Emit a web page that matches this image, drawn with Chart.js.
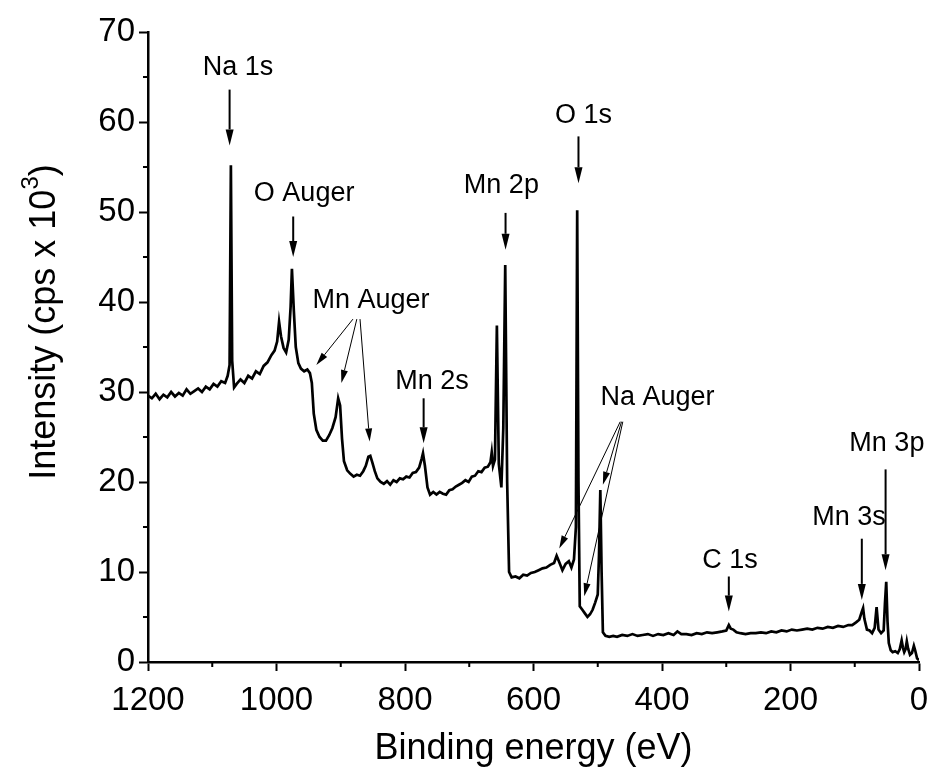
<!DOCTYPE html>
<html>
<head>
<meta charset="utf-8">
<script src="https://cdn.jsdelivr.net/npm/chart.js@4/dist/chart.umd.min.js"></script>
<style>
body { margin: 0; background: #fff; }
canvas { display: block; }
</style>
</head>
<body>
<canvas id="xps" width="933" height="780"></canvas>
<script>
const energy = [
    1200, 1194, 1188, 1182, 1176, 1170, 1164, 1158, 1152, 1146, 1140, 1134, 1128, 1122, 1116, 1110,
    1104, 1098, 1092, 1086, 1080, 1076, 1073, 1071, 1069, 1066, 1062, 1056, 1050, 1044, 1038, 1032,
    1026, 1020, 1014, 1008, 1003, 999, 996, 993, 989, 985, 981, 978, 976, 973, 970, 966, 962, 957,
    952, 948, 945, 942, 938, 933, 928, 923, 918, 913, 908, 904, 901, 898, 895, 890, 885, 880, 875,
    870, 865, 861, 857, 854, 851, 847, 843, 838, 833, 828, 823, 818, 813, 808, 803, 798, 793, 788,
    783, 778, 774, 772, 769, 765, 761, 756, 751, 746, 741, 736, 731, 726, 721, 716, 711, 706, 701,
    696, 691, 686, 681, 676, 671, 667, 665, 663, 660, 657, 654, 650, 647, 644, 641, 638, 634, 628,
    622, 616, 610, 604, 598, 592, 586, 580, 574, 568, 564, 560, 555, 550, 545, 541, 537, 534, 532,
    530, 528, 524, 520, 516, 512, 508, 504, 500, 498, 496, 494, 492, 488, 482, 476, 470, 462, 454,
    446, 438, 430, 422, 414, 406, 398, 390, 382, 376, 370, 362, 354, 346, 338, 330, 322, 314, 306,
    300, 296, 293, 289, 284, 278, 270, 262, 254, 246, 238, 230, 222, 214, 206, 198, 190, 182, 174,
    166, 158, 150, 142, 134, 126, 118, 110, 104, 98, 93, 89, 87, 85, 81, 77, 73, 69, 66, 63, 59,
    55, 53, 51, 49, 47, 44, 41, 37, 33, 30, 27, 25, 23, 21, 19, 17, 14, 11, 8, 6, 3, 0
];
const intensity = [
    29.6, 29.3, 29.8, 29.2, 29.7, 29.4, 30.0, 29.5, 29.9, 29.6, 30.3, 29.8, 30.1, 30.4, 30.0, 30.6,
    30.3, 30.9, 30.6, 31.2, 31.0, 31.8, 33.0, 55.2, 33.5, 30.5, 30.9, 31.4, 31.0, 31.8, 31.5, 32.3,
    32.0, 32.9, 33.3, 34.1, 34.6, 35.6, 37.8, 36.2, 34.9, 34.4, 35.8, 39.5, 43.7, 39.0, 35.0, 33.2, 32.6, 32.3,
    32.5, 32.1, 31.0, 27.6, 25.8, 25.0, 24.6, 24.6, 25.2, 26.0, 27.2, 29.3, 28.5, 24.8, 22.3, 21.3, 20.9, 20.6, 20.8,
    20.7, 21.2, 21.8, 22.8, 22.9, 22.2, 21.2, 20.4, 20.0, 19.8, 20.1, 19.7, 20.2, 20.0, 20.4, 20.3, 20.6, 20.5, 21.0,
    21.1, 21.6, 22.6, 23.2, 21.8, 19.4, 18.6, 18.9, 18.6, 18.9, 18.7, 18.6, 19.1, 19.2, 19.5, 19.7, 19.9, 20.2, 20.0,
    20.6, 20.7, 21.2, 21.1, 21.6, 21.7, 22.2, 23.3, 21.8, 22.5, 37.4, 22.0, 19.4, 26.0, 44.1, 20.0, 10.0, 9.4, 9.5,
    9.3, 9.7, 9.6, 9.9, 10.0, 10.2, 10.4, 10.5, 10.8, 11.0, 11.8, 11.1, 10.2, 10.9, 11.2, 10.5, 11.4, 15.0, 50.2,
    20.0, 6.2, 5.8, 5.4, 5.0, 5.3, 5.8, 6.6, 7.5, 12.0, 19.1, 10.0, 3.3, 2.9, 2.8, 2.9, 2.8, 3.0, 2.9,
    3.1, 2.9, 3.0, 3.1, 2.9, 3.1, 3.0, 3.2, 3.0, 3.4, 3.1, 3.1, 3.0, 3.2, 3.1, 3.3, 3.2, 3.3, 3.4,
    3.5, 4.1, 3.7, 3.6, 3.3, 3.2, 3.1, 3.2, 3.2, 3.3, 3.2, 3.4, 3.3, 3.5, 3.4, 3.6, 3.5, 3.6, 3.7,
    3.6, 3.8, 3.7, 3.9, 3.8, 4.0, 3.9, 4.1, 4.1, 4.4, 4.7, 5.6, 6.0, 4.8, 3.6, 3.5, 3.2, 3.8, 6.1, 3.6, 3.2,
    3.5, 6.5, 8.9, 4.5, 2.1, 1.3, 1.1, 1.2, 1.0, 1.4, 2.4, 1.6, 1.1, 1.4, 2.3, 1.5, 0.8, 1.0, 1.8, 1.3, 0.4, 0.2
];

// peak labels: text and where it sits, in eV / kcps
const peakNames = ['Na 1s', 'O Auger', 'Mn Auger', 'Mn 2s', 'Mn 2p', 'O 1s', 'Na Auger', 'C 1s', 'Mn 3s', 'Mn 3p'];
const nameEnergy = [1060, 957, 853, 758, 650, 522, 407, 294, 109, 50];
const nameIntensity = [66.0, 52.1, 40.2, 31.2, 52.9, 60.7, 29.4, 11.3, 16.0, 24.3];

// arrows: [tailE, tailI, headE, headI, heavy]
const arrows = [
    [1073, 63.6, 1073, 57.4, 1],
    [974, 49.5, 974, 45.0, 1],
    [881, 38.1, 938, 33.0, 0],
    [875, 38.1, 899, 31.0, 0],
    [870, 38.1, 855, 24.5, 0],
    [771, 29.3, 771, 24.3, 1],
    [643.5, 49.9, 643.5, 45.8, 1],
    [530, 58.4, 530, 53.2, 1],
    [465, 26.7, 560, 12.6, 0],
    [463, 26.7, 492, 19.7, 0],
    [461, 26.7, 521, 7.3, 0],
    [296, 9.5, 296, 5.6, 1],
    [89, 13.7, 89, 6.9, 1],
    [52, 21.4, 52, 10.2, 1]
];

const xTickStep = 200;
const yTickStep = 10;
const font = "'Liberation Sans', Arial, sans-serif";

function arrow(ctx, x1, y1, x2, y2, heavy) {
    let len = heavy ? 16 : 13;
    let half = heavy ? 4 : 3.5;
    let a = Math.atan2(y2 - y1, x2 - x1);
    let bx = x2 - len * Math.cos(a), by = y2 - len * Math.sin(a);
    ctx.lineWidth = heavy ? 2 : 1;
    ctx.beginPath();
    ctx.moveTo(x1, y1);
    ctx.lineTo(bx, by);
    ctx.stroke();
    ctx.beginPath();
    ctx.moveTo(x2, y2);
    ctx.lineTo(bx + half * Math.sin(a), by - half * Math.cos(a));
    ctx.lineTo(bx - half * Math.sin(a), by + half * Math.cos(a));
    ctx.closePath();
    ctx.fill();
}

const annotate = {
    id: 'annotate',
    afterDraw(chart) {
        let {ctx, chartArea: area, scales: {x, y}} = chart;
        ctx.save();
        ctx.fillStyle = '#000';
        ctx.strokeStyle = '#000';

        // minor ticks
        ctx.lineWidth = 2;
        ctx.beginPath();
        for (let v = yTickStep / 2; v < 70; v += yTickStep) {
            let py = y.getPixelForValue(v);
            ctx.moveTo(area.left, py);
            ctx.lineTo(area.left - 5, py);
        }
        for (let v = xTickStep / 2; v < 1200; v += xTickStep) {
            let px = x.getPixelForValue(v);
            ctx.moveTo(px, area.bottom);
            ctx.lineTo(px, area.bottom + 5);
        }
        ctx.stroke();

        ctx.font = `27px ${font}`;
        ctx.textAlign = 'center';
        ctx.textBaseline = 'middle';
        peakNames.forEach((name, i) => {
            ctx.fillText(name, x.getPixelForValue(nameEnergy[i]), y.getPixelForValue(nameIntensity[i]));
        });
        arrows.forEach(([e1, i1, e2, i2, heavy]) => {
            arrow(ctx, x.getPixelForValue(e1), y.getPixelForValue(i1),
                x.getPixelForValue(e2), y.getPixelForValue(i2), heavy);
        });

        // axis titles
        ctx.font = `36px ${font}`;
        ctx.fillText('Binding energy (eV)', (area.left + area.right) / 2, 749);

        ctx.translate(45, 322);
        ctx.rotate(-Math.PI / 2);
        let main = 'Intensity (cps x 10';
        let w1 = ctx.measureText(main).width;
        let w3 = ctx.measureText(')').width;
        ctx.font = `24px ${font}`;
        let w2 = ctx.measureText('3').width;
        let start = -(w1 + w2 + w3) / 2;
        ctx.textAlign = 'left';
        ctx.font = `36px ${font}`;
        ctx.fillText(main, start, 0);
        ctx.font = `24px ${font}`;
        ctx.fillText('3', start + w1, -14);
        ctx.font = `36px ${font}`;
        ctx.fillText(')', start + w1 + w2, 0);
        ctx.restore();
    }
};

new Chart(document.getElementById('xps').getContext('2d'), {
    type: 'line',
    data: {
        datasets: [{
            data: energy.map((e, i) => ({x: e, y: intensity[i]})),
            borderColor: '#000',
            borderWidth: 2.7,
            pointRadius: 0,
            tension: 0,
            fill: false
        }]
    },
    options: {
        responsive: false,
        animation: false,
        layout: {padding: {top: 32, right: 14, left: 0, bottom: 0}},
        plugins: {legend: {display: false}, tooltip: {enabled: false}},
        scales: {
            x: {
                type: 'linear',
                reverse: true,
                min: 0,
                max: 1200,
                ticks: {stepSize: xTickStep, color: '#000', font: {size: 33, family: font}, padding: 10, maxRotation: 0, callback: v => v},
                grid: {drawOnChartArea: false, color: '#000', tickLength: 9, tickWidth: 2},
                border: {color: '#000', width: 2.5},
                afterFit: s => { s.height = 118; s.paddingLeft = 0; s.paddingRight = 0; }
            },
            y: {
                min: 0,
                max: 70,
                ticks: {stepSize: yTickStep, color: '#000', font: {size: 33, family: font}, padding: 4, callback: v => v},
                grid: {drawOnChartArea: false, color: '#000', tickLength: 9, tickWidth: 2},
                border: {color: '#000', width: 2.5},
                afterFit: s => { s.width = 148; s.paddingTop = 0; s.paddingBottom = 0; }
            }
        }
    },
    plugins: [annotate]
});
</script>
</body>
</html>
